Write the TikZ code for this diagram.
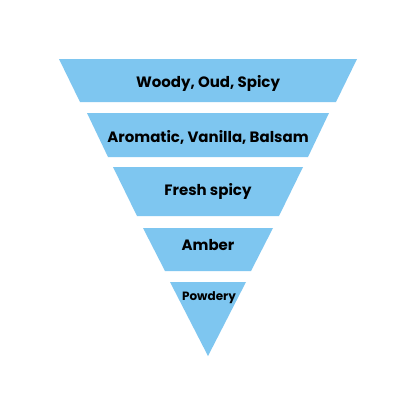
\documentclass[tikz,border=0pt]{standalone}
\usepackage{fontspec}
\setmainfont{Poppins}[UprightFont=* SemiBold,BoldFont=* Bold]
\definecolor{layerblue}{RGB}{126,198,240}
\begin{document}
\begin{tikzpicture}[x=1pt,y=-1pt,
  layer/.style={fill=layerblue,draw=none},
  lbl/.style={font=\fontsize{15}{17}\selectfont\bfseries,text=black,inner sep=0pt}]
\useasboundingbox (0,0) rectangle (416,416);
\fill[white] (0,0) rectangle (416,416);
\fill[layer] (59,59) -- (357,59) -- (336,102) -- (80,102) -- cycle;
\fill[layer] (87,113) -- (329,113) -- (308,157) -- (108,157) -- cycle;
\fill[layer] (113,167) -- (303,167) -- (279,216) -- (137,216) -- cycle;
\fill[layer] (143,228) -- (273,228) -- (251,271) -- (165,271) -- cycle;
\fill[layer] (170,282) -- (246,282) -- (208,356) -- cycle;
\node[lbl] (l1) at (208,83) {Woody, Oud, Spicy};
\node[lbl] (l2) at (208,137) {Aromatic, Vanilla, Balsam};
\node[lbl] (l3) at (208,191) {Fresh spicy};
\node[lbl] (l4) at (208,245) {Amber};
\node[lbl,font=\fontsize{12}{14}\selectfont\bfseries] (l5) at (209,298) {Powdery};
\end{tikzpicture}
\end{document}
